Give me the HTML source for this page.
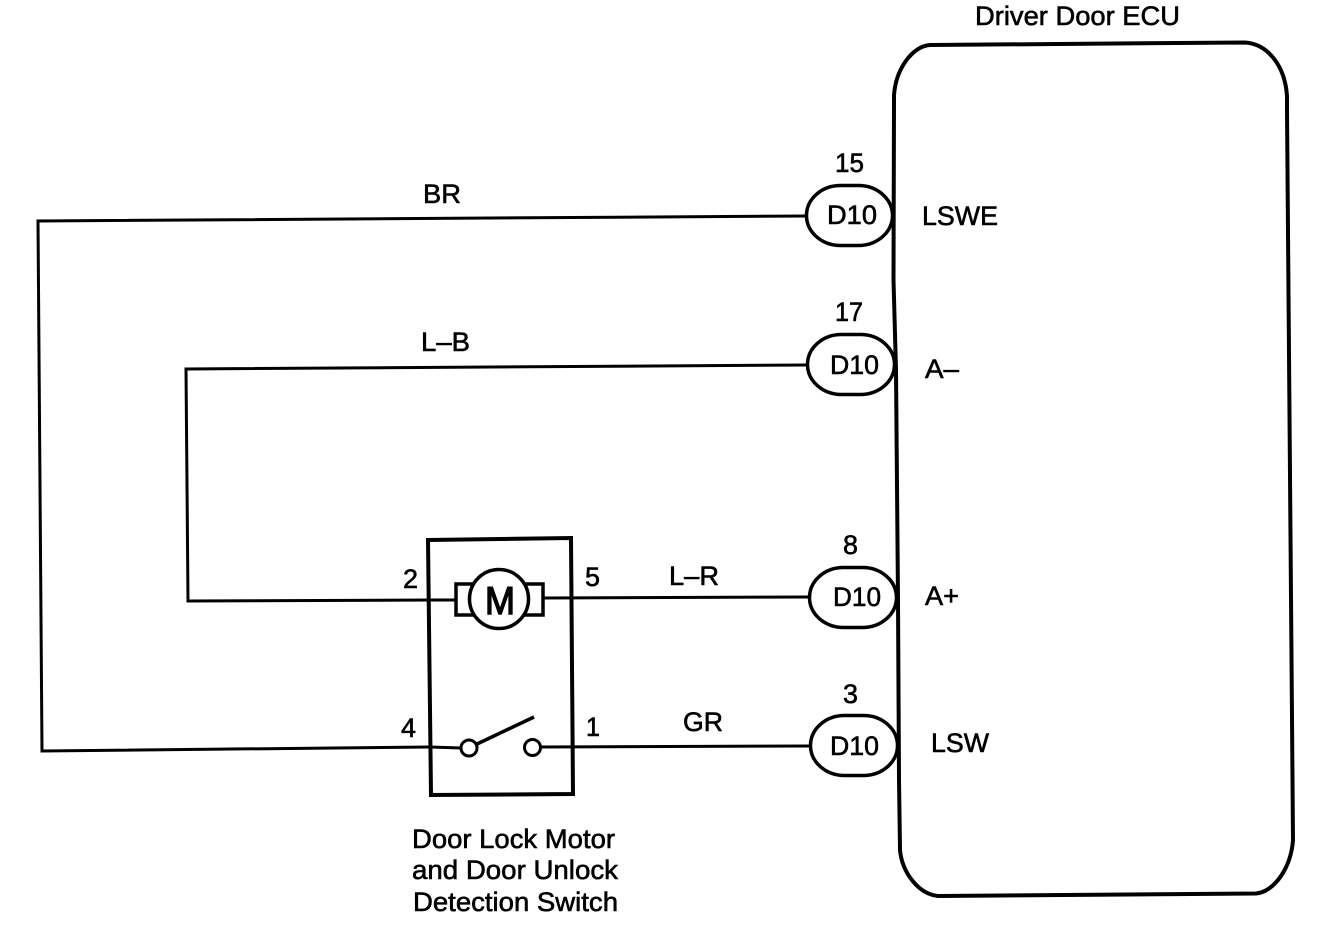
<!DOCTYPE html>
<html>
<head>
<meta charset="utf-8">
<style>
html,body{margin:0;padding:0;background:#fff;}
svg{display:block;}
text{font-family:"Liberation Sans",Arial,sans-serif;font-size:27px;fill:#000;stroke:#000;stroke-width:0.6px;}
</style>
</head>
<body>
<svg width="1328" height="940" viewBox="0 0 1328 940" xmlns="http://www.w3.org/2000/svg">
<rect width="1328" height="940" fill="#fff"/>
<g fill="none" stroke="#000" stroke-linejoin="miter">
  <!-- ECU -->
  <path d="M894 100 L894 95 C896 68 913 46 930 45 L1245 42.500 C1268 44 1285 66 1287 96 L1287 110 L1293 840 C1291 868 1274 892 1256 893.500 L938 896 C918 894 902 872 900 850 L899 780 L898 600 L896 370 L893.500 280 Z" stroke-width="4"/>
  <!-- wires -->
  <path d="M805 216 L38 221 L42 751 L430 747" stroke-width="3"/>
  <path d="M806 365 L186 369 L188 601 L430 600 L455 600" stroke-width="3"/>
  <path d="M544 598 L808 597" stroke-width="3"/>
  <path d="M540 747 L810 746" stroke-width="3"/>
  <path d="M430 747 L461 748" stroke-width="3"/>
  <!-- component box -->
  <path d="M428 540 L571 538 L573 794 L431 795 Z" stroke-width="4"/>
  <!-- motor -->
  <rect x="456" y="584" width="87" height="31" stroke-width="3.500"/>
  <circle cx="499" cy="599" r="29.500" stroke-width="3.500" fill="#fff"/>
  <!-- switch -->
  <circle cx="469" cy="748" r="8" stroke-width="3"/>
  <circle cx="532.500" cy="747.500" r="8" stroke-width="3"/>
  <path d="M477 744 L534 717" stroke-width="3.500"/>
  <!-- connectors -->
  <rect x="806.500" y="185.500" width="86" height="60" rx="34" ry="30" stroke-width="3.500" fill="#fff"/>
  <rect x="807.500" y="334.500" width="87" height="60" rx="34" ry="30" stroke-width="3.500" fill="#fff"/>
  <rect x="809.500" y="567.500" width="87" height="60" rx="34" ry="30" stroke-width="3.500" fill="#fff"/>
  <rect x="810.500" y="715.500" width="87" height="60" rx="34" ry="30" stroke-width="3.500" fill="#fff"/>
</g>
<g>
  <text x="975" y="25" textLength="205" lengthAdjust="spacingAndGlyphs">Driver Door ECU</text>
  <text x="423" y="203" textLength="38" lengthAdjust="spacingAndGlyphs">BR</text>
  <text x="421" y="351" textLength="49" lengthAdjust="spacingAndGlyphs">L–B</text>
  <text x="669" y="585" textLength="50" lengthAdjust="spacingAndGlyphs">L–R</text>
  <text x="683" y="731" textLength="40" lengthAdjust="spacingAndGlyphs">GR</text>

  <text x="835" y="172" textLength="29" lengthAdjust="spacingAndGlyphs">15</text>
  <text x="835" y="321" textLength="28" lengthAdjust="spacingAndGlyphs">17</text>
  <text x="843" y="554" textLength="15" lengthAdjust="spacingAndGlyphs">8</text>
  <text x="843" y="703" textLength="15" lengthAdjust="spacingAndGlyphs">3</text>

  <text x="827" y="224" textLength="50" lengthAdjust="spacingAndGlyphs">D10</text>
  <text x="830" y="374" textLength="49" lengthAdjust="spacingAndGlyphs">D10</text>
  <text x="833" y="606" textLength="48" lengthAdjust="spacingAndGlyphs">D10</text>
  <text x="830" y="755" textLength="49" lengthAdjust="spacingAndGlyphs">D10</text>

  <text x="922" y="225" textLength="76" lengthAdjust="spacingAndGlyphs">LSWE</text>
  <text x="925" y="378" textLength="34" lengthAdjust="spacingAndGlyphs">A–</text>
  <text x="925" y="605" textLength="34" lengthAdjust="spacingAndGlyphs">A+</text>
  <text x="931" y="752" textLength="58" lengthAdjust="spacingAndGlyphs">LSW</text>

  <text x="403" y="588" textLength="15" lengthAdjust="spacingAndGlyphs">2</text>
  <text x="585" y="586" textLength="15" lengthAdjust="spacingAndGlyphs">5</text>
  <text x="401" y="737" textLength="15" lengthAdjust="spacingAndGlyphs">4</text>
  <text x="586" y="736" textLength="14" lengthAdjust="spacingAndGlyphs">1</text>

  <text x="485" y="614" textLength="30" lengthAdjust="spacingAndGlyphs" style="font-size:39px;stroke-width:1.4px">M</text>

  <text x="412" y="848" textLength="203" lengthAdjust="spacingAndGlyphs">Door Lock Motor</text>
  <text x="412" y="879" textLength="206" lengthAdjust="spacingAndGlyphs">and Door Unlock</text>
  <text x="413" y="911" textLength="205" lengthAdjust="spacingAndGlyphs">Detection Switch</text>
</g>
</svg>
</body>
</html>
